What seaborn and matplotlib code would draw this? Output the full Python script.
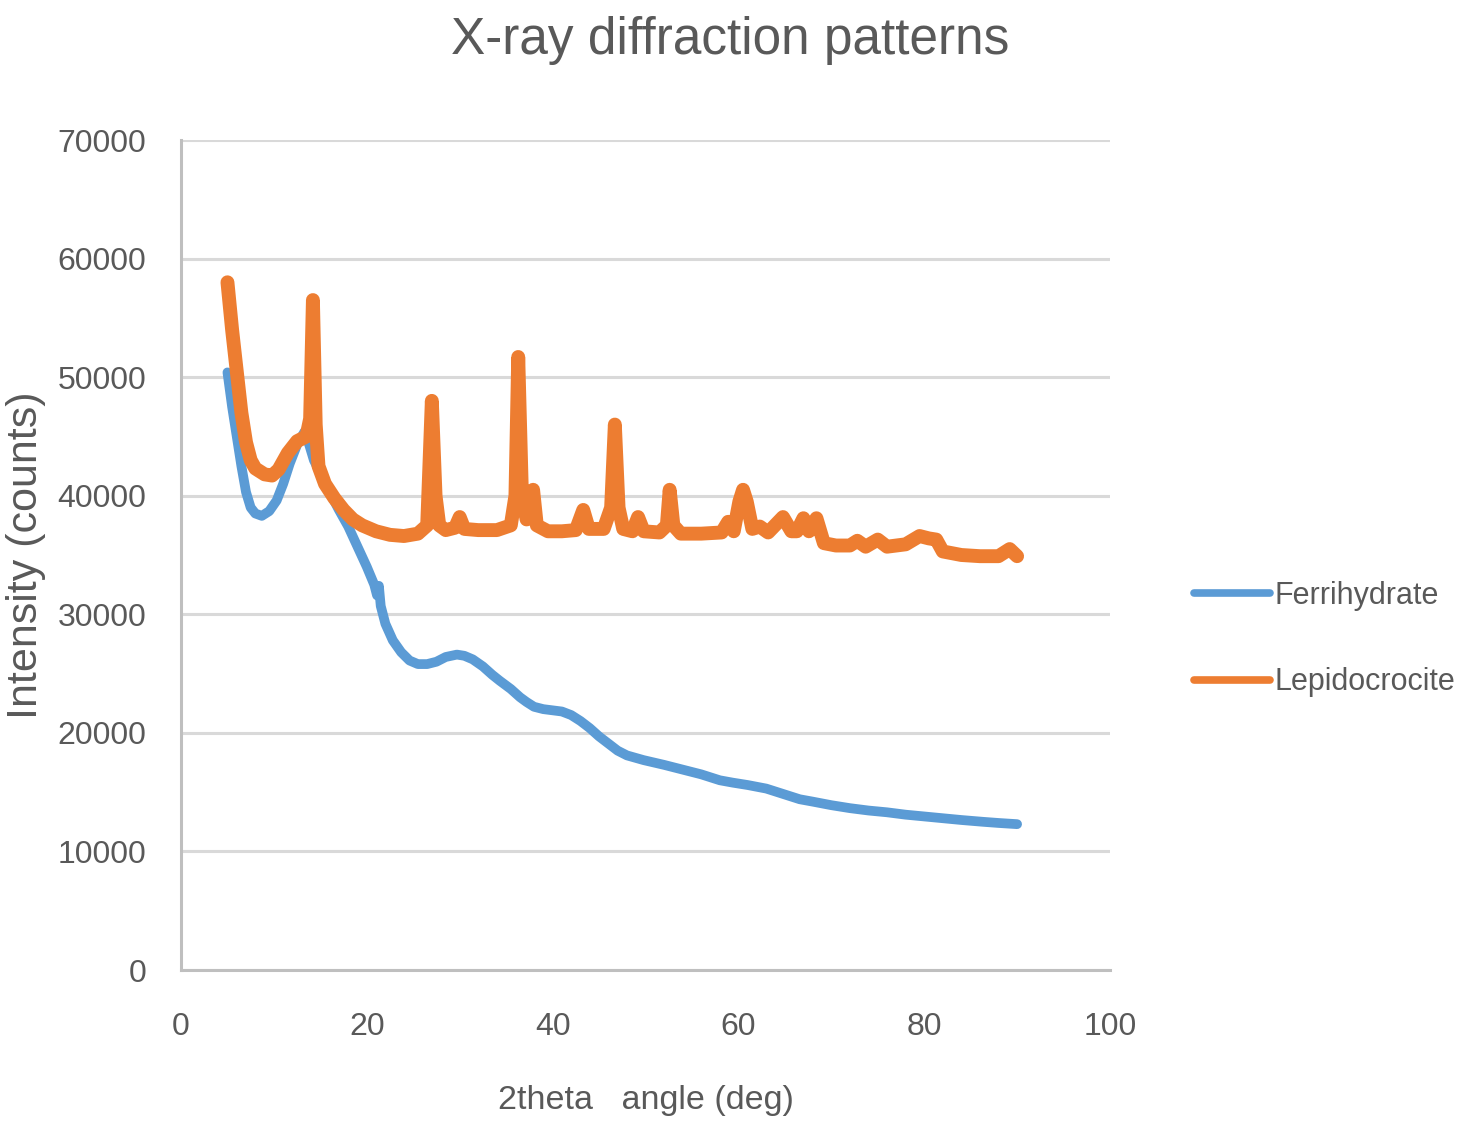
import matplotlib
matplotlib.use("Agg")
import matplotlib.pyplot as plt
import seaborn as sns
import pandas as pd

# Ferrihydrate pattern: 2theta (deg) and intensity (counts)
ferri_2theta = [5.0, 5.5, 6.0, 6.5, 7.0, 7.5, 8.0, 8.7, 9.5, 10.3, 11.0, 11.7,
                12.5, 13.3, 13.8, 14.3, 15.0, 16.0, 17.0, 18.0, 19.0, 20.0,
                20.8, 21.1, 21.3, 21.5, 22.0, 22.8, 23.7, 24.6, 25.5, 26.5,
                27.5, 28.5, 29.7, 30.5, 31.4, 32.5, 33.5, 34.3, 35.5, 36.5,
                37.2, 38.0, 39.0, 40.0, 41.0, 42.0, 43.0, 44.0, 45.0, 46.0,
                47.0, 48.0, 49.8, 52.0, 54.0, 56.0, 58.0, 59.4, 61.0, 63.0,
                65.0, 66.6, 68.0, 70.0, 72.0, 74.0, 76.0, 78.0, 80.0, 82.0,
                84.0, 86.3, 88.0, 90.0]
ferri_counts = [50400, 47500, 45000, 42500, 40300, 39000, 38500, 38300, 38700,
                39600, 41000, 42700, 44300, 45400, 44300, 43000, 41900, 40300,
                38800, 37400, 35700, 34000, 32500, 31600, 32400, 30700, 29200,
                27800, 26800, 26100, 25800, 25800, 26000, 26400, 26600, 26500,
                26200, 25600, 24900, 24400, 23700, 23000, 22600, 22200, 22000,
                21900, 21800, 21500, 21000, 20400, 19700, 19100, 18500, 18100,
                17700, 17300, 16900, 16500, 16000, 15800, 15600, 15300, 14800,
                14400, 14200, 13900, 13650, 13450, 13300, 13100, 12950, 12800,
                12650, 12500, 12400, 12300]

# Lepidocrocite pattern: 2theta (deg) and intensity (counts)
lepido_2theta = [5.0, 5.5, 6.0, 6.5, 7.0, 7.5, 8.0, 9.0, 9.8, 10.5, 11.5, 12.5,
                 13.5, 13.9, 14.2, 14.5, 14.8, 15.5, 16.5, 17.5, 18.5, 19.5,
                 21.0, 22.5, 24.0, 25.5, 26.5, 27.0, 27.4, 27.8, 28.5, 29.5,
                 30.0, 30.5, 32.0, 34.0, 35.5, 36.0, 36.3, 36.7, 37.2, 37.6,
                 37.9, 38.3, 39.5, 41.0, 42.5, 43.3, 43.9, 45.5, 46.3, 46.7,
                 47.1, 47.6, 48.6, 49.2, 49.8, 51.5, 52.3, 52.6, 53.0, 53.8,
                 56.0, 58.2, 58.9, 59.5, 60.1, 60.5, 60.9, 61.5, 62.3, 63.2,
                 64.8, 65.7, 66.3, 67.0, 67.6, 68.4, 69.2, 70.5, 72.0, 72.8,
                 73.7, 75.0, 76.0, 78.0, 79.5, 80.5, 81.3, 82.0, 84.0, 86.0,
                 88.0, 89.2, 90.0]
lepido_counts = [58000, 54000, 50500, 47000, 44500, 43000, 42300, 41800, 41700,
                 42200, 43600, 44600, 45000, 46500, 56500, 46000, 42500, 41000,
                 39800, 38800, 38000, 37500, 37000, 36700, 36600, 36800, 37500,
                 48000, 40000, 37500, 37100, 37300, 38200, 37200, 37100, 37100,
                 37500, 40000, 51700, 40000, 38000, 38200, 40500, 37500, 37000,
                 37000, 37100, 38800, 37200, 37200, 39000, 46000, 39000, 37200,
                 37000, 38200, 37000, 36900, 37500, 40500, 37500, 36800, 36800,
                 36900, 37800, 37000, 39500, 40500, 39500, 37200, 37400, 36900,
                 38200, 37000, 37000, 38100, 37000, 38100, 36000, 35800, 35800,
                 36200, 35700, 36300, 35700, 35900, 36600, 36400, 36300, 35300,
                 35000, 34900, 34900, 35500, 34900]

series_names = ["Ferrihydrate", "Lepidocrocite"]
series_colors = ["#5B9BD5", "#ED7D31"]

x_ticks = [0, 20, 40, 60, 80, 100]
y_ticks = [0, 10000, 20000, 30000, 40000, 50000, 60000, 70000]

df = pd.concat([
    pd.DataFrame({"angle": ferri_2theta, "counts": ferri_counts, "sample": series_names[0]}),
    pd.DataFrame({"angle": lepido_2theta, "counts": lepido_counts, "sample": series_names[1]}),
], ignore_index=True)

sns.set_style("white")
text_color = "#595959"
plt.rcParams["font.family"] = ["Liberation Sans", "DejaVu Sans"]

fig = plt.figure(figsize=(14.75, 11.21), dpi=100)
ax = fig.add_axes([181 / 1475, 1 - 970 / 1121, 929 / 1475, 830 / 1121])

sns.lineplot(data=df, x="angle", y="counts", hue="sample", hue_order=series_names,
             palette=dict(zip(series_names, series_colors)), sort=False,
             estimator=None, ax=ax, legend=False)
ax.lines[0].set_linewidth(7)
ax.lines[1].set_linewidth(10)
for ln in ax.lines:
    ln.set_solid_joinstyle("round")

ax.set_xlim(0, 100)
ax.set_ylim(0, 70000)
ax.set_xticks(x_ticks)
ax.set_yticks(y_ticks)
ax.set_xticklabels([str(v) for v in x_ticks])
ax.set_yticklabels([str(v) for v in y_ticks])
ax.tick_params(axis="both", length=0, labelsize=23, colors=text_color)
ax.tick_params(axis="x", pad=30)
ax.tick_params(axis="y", pad=25)

ax.grid(axis="y", color="#d9d9d9", linewidth=2.2)
ax.grid(axis="x", visible=False)
ax.set_axisbelow(True)
for side in ["top", "right"]:
    ax.spines[side].set_visible(False)
for side in ["left", "bottom"]:
    ax.spines[side].set_color("#bfbfbf")
    ax.spines[side].set_linewidth(2.2)

ax.set_xlabel("2theta   angle (deg)", fontsize=24.5, color=text_color)
ax.set_ylabel("Intensity (counts)", fontsize=31, color=text_color)
ax.xaxis.set_label_coords(0.5, -0.138)
ax.yaxis.set_label_coords(-0.145, 0.5)

fig.suptitle("X-ray diffraction patterns", x=730 / 1475, y=1 - 16 / 1121,
             va="top", fontsize=37, color=text_color)

handles = [plt.Line2D([], [], color=c, linewidth=5.5) for c in series_colors]
fig.legend(handles, series_names, loc="center left",
           bbox_to_anchor=(1194 / 1475, 1 - 639 / 1121), frameon=False,
           fontsize=22, labelcolor=text_color, handlelength=2.5,
           handletextpad=0.15, labelspacing=1.85, borderpad=0, borderaxespad=0)

fig.savefig("out.png", dpi=100)
